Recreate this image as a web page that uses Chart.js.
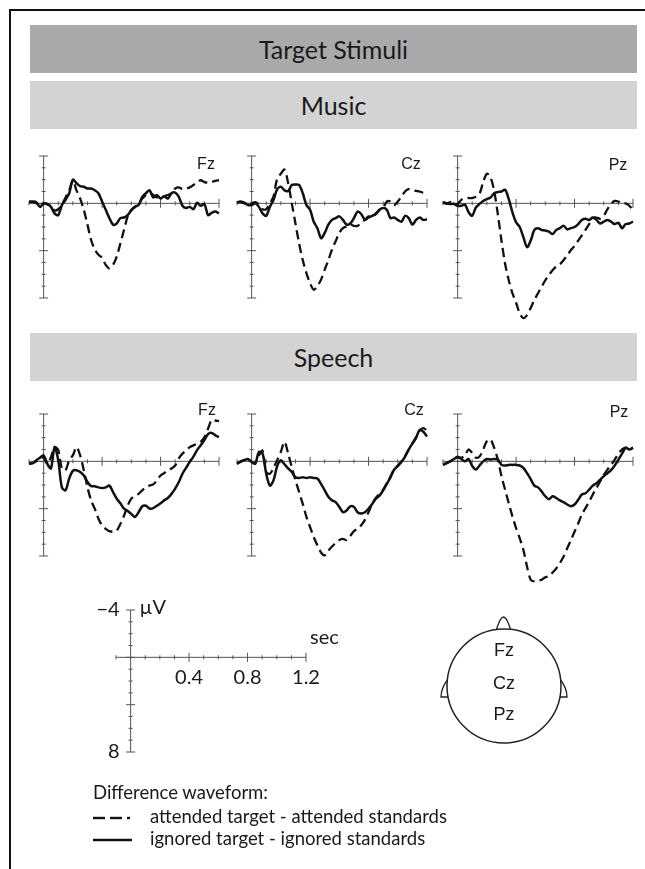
<!DOCTYPE html>
<html>
<head>
<meta charset="utf-8">
<script src="https://cdn.jsdelivr.net/npm/chart.js@4.4.1/dist/chart.umd.min.js"></script>
<style>
  body { margin: 0; background: #fff; width: 645px; height: 869px; overflow: hidden; position: relative; font-family: Lato, "Liberation Sans", sans-serif; color: #1a1a1a; }
  .frame { position: absolute; left: 9px; top: 9px; right: -10px; bottom: -10px; border-left: 2px solid #111; border-top: 2px solid #111; }
  .banner { position: absolute; left: 30px; width: 607px; height: 48px; line-height: 48px; text-align: center; font-size: 25px; }
  .dark { background: #aaaaaa; }
  .light { background: #d3d3d3; }
  canvas { position: absolute; }
  .lbl { position: absolute; font: 16px "Liberation Sans", Arial, sans-serif; transform: translate(-50%, -50%); white-space: nowrap; }
  .legend { position: absolute; left: 93px; font-size: 18.5px; white-space: nowrap; }
  svg { position: absolute; left: 0; top: 0; }
</style>
</head>
<body>
<div class="frame"></div>
<div class="banner dark" style="top:25px">Target Stimuli</div>
<div class="banner light" style="top:81px">Music</div>
<div class="banner light" style="top:333px">Speech</div>

<canvas id="musicFz"></canvas>
<canvas id="musicCz"></canvas>
<canvas id="musicPz"></canvas>
<canvas id="speechFz"></canvas>
<canvas id="speechCz"></canvas>
<canvas id="speechPz"></canvas>
<canvas id="scaleKey"></canvas>

<div class="lbl" style="left:206px;top:164px">Fz</div>
<div class="lbl" style="left:411px;top:164px">Cz</div>
<div class="lbl" style="left:618px;top:165px">Pz</div>
<div class="lbl" style="left:207px;top:410px">Fz</div>
<div class="lbl" style="left:414px;top:410px">Cz</div>
<div class="lbl" style="left:619px;top:412px">Pz</div>

<svg width="645" height="869">
  <path d="M496,631 Q500,617 503.5,617 Q507,617 511,631" fill="#fff" stroke="#222" stroke-width="1.3"/>
  <path d="M448,679 Q441,688 441,697 L449,697" fill="#fff" stroke="#222" stroke-width="1.3"/>
  <path d="M560,679 Q567,688 567,697 L559,697" fill="#fff" stroke="#222" stroke-width="1.3"/>
  <circle cx="504" cy="686" r="57" fill="#fff" stroke="#222" stroke-width="1.5"/>
  <line x1="93" y1="818" x2="105" y2="818" stroke="#111" stroke-width="2.4"/>
  <line x1="110" y1="818" x2="122" y2="818" stroke="#111" stroke-width="2.4"/>
  <line x1="127" y1="818" x2="130" y2="818" stroke="#111" stroke-width="2.4"/>
  <line x1="93" y1="840" x2="132" y2="840" stroke="#111" stroke-width="2.4"/>
</svg>
<div class="lbl" style="left:504px;top:650px;font-size:18px">Fz</div>
<div class="lbl" style="left:504px;top:683px;font-size:18px">Cz</div>
<div class="lbl" style="left:504px;top:714px;font-size:18px">Pz</div>

<div class="legend" style="top:781px">Difference waveform:</div>
<div class="legend" style="top:805px;left:150px">attended target - attended standards</div>
<div class="legend" style="top:827px;left:150px">ignored target - ignored standards</div>

<script>
// time points (s)
const times = [-0.1,-0.075,-0.05,-0.025,0,0.025,0.05,0.075,0.1,0.125,0.15,0.175,0.2,0.225,0.25,0.275,0.3,0.325,0.35,0.375,0.4,0.425,0.45,0.475,0.5,0.525,0.55,0.575,0.6,0.625,0.65,0.675,0.7,0.725,0.75,0.775,0.8,0.825,0.85,0.875,0.9,0.925,0.95,0.975,1.0,1.025,1.05,1.075,1.1,1.125,1.15,1.175,1.2];

// difference waveforms (µV), attended = dashed, ignored = solid
const musicFzAttended = [-0.1,-0.1,0,0.2,0,0.1,0.2,0.6,0.5,0.1,-0.5,-1.1,-1.9,-1.1,-0.4,0.55,1.8,3.1,3.9,4.35,4.6,5.2,5.5,5.2,4.5,3.4,2.25,1.1,0.55,0.3,0.05,-0.4,-0.7,-0.9,-0.7,-0.5,-0.5,-0.6,-0.7,-0.85,-1.25,-1.35,-1.2,-1.25,-1.35,-1.55,-1.8,-1.95,-1.8,-1.75,-1.8,-1.9,-1.95];
const musicFzIgnored = [-0.15,-0.15,-0.1,0.3,0,0.05,0.3,0.85,1.0,0.15,-0.3,-0.85,-2.0,-1.7,-1.45,-1.4,-1.25,-1.25,-1.1,-0.85,-0.15,0.55,1.25,1.8,1.7,1.25,1.2,1.0,0.6,0.3,0.15,-0.55,-0.85,-1.1,-0.5,-0.7,-0.4,-0.6,-0.4,-0.85,-0.9,-0.55,0.2,0.4,0.3,0.5,-0.05,0.2,0.05,1.0,0.8,0.7,0.85];
const musicCzAttended = [-0.1,-0.1,0,0.1,0,-0.1,0.1,0.5,0.5,0,-0.6,-2.1,-2.5,-2.85,-1.7,0,1.7,3.4,4.8,5.9,6.75,7.3,7.0,6.45,5.6,4.8,3.9,3.2,2.5,2.1,1.95,1.8,1.9,1.9,1.65,1.4,1.1,1.2,0.85,0.55,0.4,-0.15,-0.15,0.15,-0.15,-0.55,-1.0,-1.2,-1.1,-1.05,-1.0,-0.9,-1.0];
const musicCzIgnored = [-0.1,-0.15,-0.05,0.15,0.15,0,0.3,0.85,1.05,0.3,-0.3,-1.2,-1.4,-1.1,-1.05,-1.55,-1.6,-1.55,-0.85,0.15,0.55,1.55,2.1,2.95,2.5,1.8,1.4,1.25,1.1,1.4,1.8,1.7,1.25,0.7,0.9,1.4,1.2,1.05,0.9,0.55,0.4,0.55,1.25,1.2,1.4,1.55,1.05,1.25,1.8,1.4,1.2,1.4,1.35];
const musicPzAttended = [-0.1,0.05,-0.1,0.05,0.05,-0.3,-0.45,-0.45,-0.45,-0.55,-0.8,-1.8,-2.5,-2.2,-1.05,0.9,3.15,5.1,6.5,7.6,8.4,9.3,9.7,9.45,8.85,8.15,7.6,7.05,6.5,6.05,5.65,5.35,5.15,4.8,4.4,3.95,3.6,3.15,2.7,2.25,1.75,1.25,1.2,1.3,1.05,0.5,0.05,-0.2,-0.15,0.05,0,0.2,0.6];
const musicPzIgnored = [-0.1,0,0.05,0.05,0.2,0.2,0.1,0.75,1.05,0.35,0.05,-0.2,-0.35,-0.5,-0.85,-0.95,-1.0,-1.15,-0.35,0.75,1.6,2.0,2.85,3.7,3.15,2.25,2.1,2.25,2.3,2.4,2.6,2.25,2.1,1.9,2.2,2.1,2.0,1.75,1.4,1.3,1.4,1.2,1.4,1.7,1.55,1.4,1.55,1.75,1.65,2.1,1.75,1.7,1.55];
const speechFzAttended = [0.2,0.15,0,-0.2,-0.35,0.2,-0.35,-1.2,-0.95,0.6,0.75,-0.1,-0.5,-1.2,-0.5,0.75,2.2,3.3,4.0,4.85,5.4,5.7,5.9,5.95,5.85,5.3,4.6,3.75,3.15,2.9,2.75,2.45,2.2,2.05,1.95,1.6,1.2,1.0,0.75,0.6,0.35,-0.25,-0.65,-0.9,-1.2,-1.35,-1.5,-1.65,-2.05,-2.75,-3.5,-3.45,-3.4];
const speechFzIgnored = [0.2,0.15,-0.1,-0.3,-0.5,0.2,0.6,-1.2,-0.1,2.2,2.45,1.45,0.8,0.75,0.9,1.2,1.75,2.1,2.1,2.2,2.25,2.2,2.05,2.6,3.15,3.55,4.0,4.2,4.45,4.7,4.3,3.8,3.75,4.0,3.95,3.75,3.55,3.3,3.1,2.75,2.3,1.75,1.05,0.55,0.05,-0.4,-0.95,-1.35,-1.8,-2.3,-2.4,-2.2,-2.05];
const speechCzAttended = [0.2,0.05,-0.1,-0.15,0.05,0.15,-0.5,-0.9,0.9,1.05,0.55,-0.1,-0.8,-1.65,-0.65,0.5,1.6,2.6,3.6,4.7,5.55,6.4,7.1,7.7,7.95,7.55,7.2,6.9,6.65,6.55,6.65,6.3,5.9,5.7,5.4,4.95,4.3,3.6,3.1,2.75,2.4,1.85,1.3,0.7,0.35,0,-0.45,-1.0,-1.5,-2.0,-2.6,-2.8,-2.6];
const speechCzIgnored = [0.2,0,-0.1,-0.2,0.05,0.2,-0.8,-0.65,1.05,2.05,1.6,0.4,-0.1,0.25,0.6,0.9,1.35,1.4,1.35,1.4,1.35,1.4,1.45,1.9,2.45,3.0,3.3,3.45,3.85,4.3,4.15,3.8,3.85,4.3,4.4,4.3,4.0,3.6,3.15,2.9,2.45,1.9,1.35,0.7,0.4,0.05,-0.4,-1.0,-1.5,-2.0,-2.65,-2.5,-2.1];
const speechPzAttended = [0.3,0.15,0,-0.2,-0.4,-0.3,-0.5,-1.0,-0.7,-0.3,-0.4,-1.0,-1.7,-1.85,-1.15,-0.15,1.25,2.4,3.55,4.65,5.65,6.5,7.5,8.9,10.0,10.15,10.1,10.0,9.8,9.7,9.4,9.05,8.6,8.05,7.35,6.65,5.95,5.25,4.5,3.95,3.4,2.8,2.25,1.7,1.15,0.7,0.3,-0.15,-0.65,-1.0,-1.15,-1.0,-1.15];
const speechPzIgnored = [0.3,0.15,0,-0.2,-0.35,-0.2,0,-0.2,0.4,0.7,0.35,0,-0.2,-0.15,-0.2,-0.15,0.3,0.35,0.3,0.3,0.3,0.35,0.55,1.0,1.5,2.05,2.2,2.55,2.95,3.2,2.95,3.1,3.3,3.45,3.65,3.8,3.65,3.25,2.8,2.7,2.4,2.05,1.85,1.55,1.25,1.0,0.75,0.35,-0.15,-0.65,-1.15,-1.0,-1.15];

// axis ticks
const yTicks = [-4,-3,-2,-1,0,1,2,3,4,5,6,7,8];
const yMajor = [-4,0,4,8];
const xTicks = [-0.1,0,0.1,0.2,0.3,0.4,0.5,0.6,0.7,0.8,0.9,1.0,1.1,1.2];
const xMajor = [0.4,0.8,1.2];
const xTickLabels = ["0.4","0.8","1.2"];
const yTickLabels = ["\u22124","8"];

// layout
const PX_S = 190 / 1.3;     // px per second
const PX_UV = 142 / 12;     // px per microvolt
const PAD = {left: 10, right: 10, top: 14, bottom: 36};
const KEY_PAD = {left: 45, right: 50, top: 20, bottom: 20};

// draws axes crossing at the origin, ticks across the lines
const eegAxes = {
  id: 'eegAxes',
  beforeDatasetsDraw(chart, args, opts) {
    const {ctx, scales: {x, y}} = chart;
    const x0 = x.getPixelForValue(0), y0 = y.getPixelForValue(0);
    ctx.save();
    ctx.strokeStyle = '#555';
    ctx.lineWidth = 1;
    ctx.beginPath();
    ctx.moveTo(x0, y.getPixelForValue(-4));
    ctx.lineTo(x0, y.getPixelForValue(8));
    ctx.moveTo(x.getPixelForValue(-0.1), y0);
    ctx.lineTo(x.getPixelForValue(1.2), y0);
    yTicks.forEach(v => {
      const p = y.getPixelForValue(v);
      const h = yMajor.includes(v) ? 4.5 : 2;
      ctx.moveTo(x0 - h, p); ctx.lineTo(x0 + h, p);
    });
    xTicks.forEach(t => {
      const p = x.getPixelForValue(t);
      const h = xMajor.includes(t) ? 4.5 : 2;
      ctx.moveTo(p, y0 - h); ctx.lineTo(p, y0 + h);
    });
    ctx.stroke();
    if (opts.labels) {
      ctx.fillStyle = '#1a1a1a';
      ctx.font = '20px Lato, sans-serif';
      ctx.textBaseline = 'middle';
      ctx.textAlign = 'center';
      xMajor.forEach((t, i) => ctx.fillText(xTickLabels[i], x.getPixelForValue(t), y0 + 20));
      ctx.textAlign = 'right';
      ctx.fillText(yTickLabels[0], x0 - 11, y.getPixelForValue(-4));
      ctx.fillText(yTickLabels[1], x0 - 11, y.getPixelForValue(8));
      ctx.textAlign = 'left';
      ctx.fillText('\u00b5V', x0 + 9, y.getPixelForValue(-4) - 2);
      ctx.fillText('sec', x.getPixelForValue(1.2) + 4, y0 - 20);
    }
    ctx.restore();
  }
};

function points(values) {
  return times.map((t, i) => ({x: t, y: values[i]}));
}

function makePanel(id, originX, originY, attended, ignored, labels) {
  const pad = labels ? KEY_PAD : PAD;
  const canvas = document.getElementById(id);
  const w = 1.3 * PX_S + pad.left + pad.right;
  const h = 12 * PX_UV + pad.top + pad.bottom;
  canvas.width = w; canvas.height = h;
  canvas.style.width = w + 'px'; canvas.style.height = h + 'px';
  canvas.style.left = (originX - 0.1 * PX_S - pad.left) + 'px';
  canvas.style.top = (originY - 4 * PX_UV - pad.top) + 'px';
  const datasets = [];
  if (attended) {
    datasets.push({data: points(attended), borderColor: '#111', borderWidth: 2.3, borderDash: [9, 5],
      pointRadius: 0, tension: 0.3, clip: false, fill: false});
  }
  if (ignored) {
    datasets.push({data: points(ignored), borderColor: '#111', borderWidth: 2.5,
      pointRadius: 0, tension: 0.3, clip: false, fill: false});
  }
  return new Chart(canvas, {
    type: 'line',
    data: {datasets},
    options: {
      responsive: false,
      animation: false,
      events: [],
      layout: {padding: pad},
      plugins: {legend: {display: false}, tooltip: {enabled: false}, eegAxes: {labels: !!labels}},
      scales: {
        x: {type: 'linear', min: -0.1, max: 1.2, display: false},
        y: {min: -4, max: 8, reverse: true, display: false}
      }
    },
    plugins: [eegAxes]
  });
}

window.onload = function () {
  makePanel('musicFz', 44, 203, musicFzAttended, musicFzIgnored);
  makePanel('musicCz', 252, 203, musicCzAttended, musicCzIgnored);
  makePanel('musicPz', 458, 203, musicPzAttended, musicPzIgnored);
  makePanel('speechFz', 44, 461, speechFzAttended, speechFzIgnored);
  makePanel('speechCz', 252, 461, speechCzAttended, speechCzIgnored);
  makePanel('speechPz', 458, 461, speechPzAttended, speechPzIgnored);
  makePanel('scaleKey', 131, 657, null, null, true);
};
</script>
</body>
</html>
